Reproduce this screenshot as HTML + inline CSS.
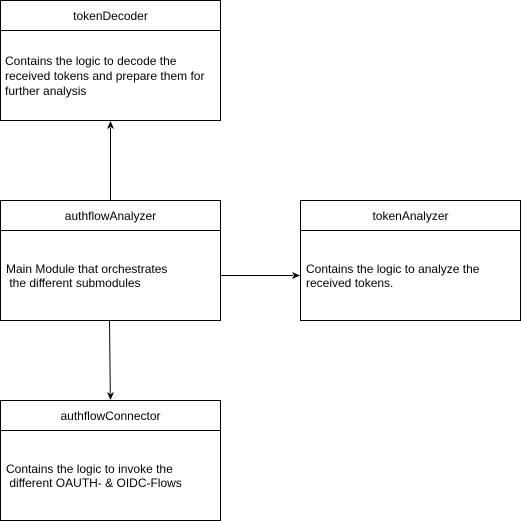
<!DOCTYPE html>
<html><head><style>body{margin:0;background:#fff}svg{display:block}text{font-family:"Liberation Sans",Arial,sans-serif;font-size:12px;fill:#000}</style></head>
<body>
<svg width="521" height="521" viewBox="0 0 521 521">
<g fill="#fff" stroke="#000" stroke-width="1">
<rect x="0.5" y="0.5" width="220" height="120"/><line x1="0.5" y1="30.5" x2="220.5" y2="30.5"/>
<rect x="0.5" y="200.5" width="220" height="120"/><line x1="0.5" y1="230.5" x2="220.5" y2="230.5"/>
<rect x="300.5" y="200.5" width="220" height="120"/><line x1="300.5" y1="230.5" x2="520.5" y2="230.5"/>
<rect x="0.5" y="400.5" width="220" height="120"/><line x1="0.5" y1="430.5" x2="220.5" y2="430.5"/>
</g>
<g stroke="#000" fill="none">
<line x1="110.5" y1="200" x2="110.5" y2="128"/>
<line x1="220.5" y1="275.5" x2="293" y2="275.5"/>
<line x1="109.5" y1="320.5" x2="110.3" y2="393"/>
</g>
<g fill="#000">
<path d="M110.5,121 L114,129 L110.5,127 L107,129 Z"/>
<path d="M300,275.5 L292,279 L294,275.5 L292,272 Z"/>
<path d="M110.5,400 L107,392 L110.5,394 L114,392 Z"/>
</g>
<text x="110.5" y="20" text-anchor="middle">tokenDecoder</text>
<text x="5" y="65">Contains the logic to decode the</text>
<text x="5" y="80">received tokens and prepare them for</text>
<text x="5" y="95">further analysis</text>
<text x="110.5" y="220" text-anchor="middle">authflowAnalyzer</text>
<text x="6" y="273">Main Module that orchestrates</text>
<text x="6" y="287">&#160;the different submodules</text>
<text x="410.5" y="220" text-anchor="middle">tokenAnalyzer</text>
<text x="306" y="273">Contains the logic to analyze the</text>
<text x="306" y="287">received tokens.</text>
<text x="110.5" y="420" text-anchor="middle">authflowConnector</text>
<text x="6" y="473">Contains the logic to invoke the</text>
<text x="6" y="487">&#160;different OAUTH- &amp; OIDC-Flows</text>
</svg>
</body></html>
